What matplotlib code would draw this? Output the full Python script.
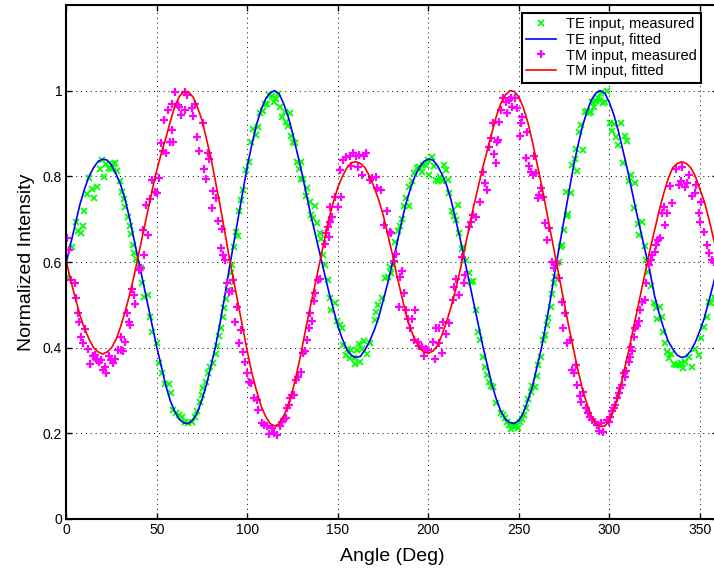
import matplotlib
matplotlib.use('Agg')
import matplotlib.pyplot as plt

plt.rcParams['font.family'] = ['Liberation Sans', 'DejaVu Sans']

# fitted curves, sampled every 2.5 degrees
fit_angle = [i * 2.5 for i in range(145)]
te_fit = [0.60, 0.645, 0.69, 0.735, 0.77, 0.80, 0.82, 0.835,
          0.84, 0.838, 0.825, 0.805, 0.78, 0.745, 0.70, 0.65,
          0.60, 0.55, 0.50, 0.45, 0.40, 0.355, 0.31, 0.275,
          0.25, 0.232, 0.224, 0.223, 0.232, 0.25, 0.28, 0.315,
          0.36, 0.405, 0.46, 0.52, 0.585, 0.645, 0.705, 0.765,
          0.825, 0.875, 0.92, 0.955, 0.98, 0.995, 1.00, 0.993,
          0.97, 0.94, 0.90, 0.855, 0.81, 0.76, 0.71, 0.665,
          0.62, 0.575, 0.53, 0.49, 0.45, 0.42, 0.395, 0.382,
          0.377, 0.38, 0.395, 0.415, 0.44, 0.47, 0.51, 0.55,
          0.595, 0.64, 0.69, 0.735, 0.77, 0.80, 0.82, 0.835,
          0.84, 0.838, 0.825, 0.805, 0.78, 0.745, 0.70, 0.655,
          0.605, 0.555, 0.505, 0.455, 0.405, 0.36, 0.315, 0.28,
          0.252, 0.233, 0.225, 0.223, 0.23, 0.248, 0.277, 0.31,
          0.355, 0.40, 0.455, 0.515, 0.58, 0.64, 0.70, 0.76,
          0.82, 0.87, 0.915, 0.95, 0.978, 0.994, 1.00, 0.994,
          0.972, 0.943, 0.905, 0.86, 0.815, 0.765, 0.715, 0.668,
          0.62, 0.575, 0.52, 0.48, 0.445, 0.415, 0.397, 0.382,
          0.377, 0.38, 0.393, 0.413, 0.44, 0.47, 0.51, 0.55,
          0.595]
tm_fit = [0.60, 0.555, 0.515, 0.475, 0.445, 0.42, 0.40, 0.39,
          0.385, 0.39, 0.40, 0.42, 0.45, 0.485, 0.525, 0.57,
          0.62, 0.67, 0.72, 0.77, 0.815, 0.855, 0.89, 0.93,
          0.965, 0.987, 0.998, 0.997, 0.985, 0.96, 0.93, 0.885,
          0.84, 0.785, 0.73, 0.67, 0.61, 0.555, 0.50, 0.445,
          0.39, 0.34, 0.30, 0.265, 0.24, 0.223, 0.217, 0.222,
          0.24, 0.265, 0.30, 0.345, 0.395, 0.45, 0.50, 0.55,
          0.60, 0.65, 0.70, 0.74, 0.775, 0.80, 0.82, 0.832,
          0.834, 0.83, 0.82, 0.80, 0.775, 0.745, 0.71, 0.665,
          0.62, 0.57, 0.525, 0.48, 0.445, 0.42, 0.40, 0.39,
          0.387, 0.392, 0.405, 0.43, 0.46, 0.495, 0.535, 0.58,
          0.63, 0.68, 0.73, 0.775, 0.82, 0.86, 0.90, 0.94,
          0.97, 0.99, 1.0, 0.998, 0.985, 0.96, 0.925, 0.88,
          0.83, 0.78, 0.725, 0.67, 0.615, 0.56, 0.505, 0.45,
          0.40, 0.35, 0.305, 0.27, 0.24, 0.222, 0.216, 0.217,
          0.23, 0.255, 0.29, 0.335, 0.38, 0.43, 0.48, 0.53,
          0.58, 0.63, 0.675, 0.72, 0.76, 0.795, 0.82, 0.83,
          0.834, 0.83, 0.82, 0.80, 0.77, 0.74, 0.70, 0.655,
          0.61]

# measured points (angle, normalized intensity)
te_angle = [0.3, 3.1, 5.3, 6.4, 8.1, 9.0, 9.9, 11.4, 12.7, 14.1, 15.4, 16.9, 18.4, 19.7, 21.0,
            22.1, 23.4, 24.6, 25.7, 27.0, 28.1, 29.8, 30.7, 31.8, 32.6, 33.8, 35.0, 35.7, 36.6,
            37.2, 38.5, 39.9, 41.0, 41.8, 43.1, 44.9, 46.0, 47.3, 50.1, 51.0, 52.8, 54.3, 56.5,
            58.0, 59.1, 60.6, 62.2, 63.7, 65.5, 67.4, 69.2, 71.1, 72.3, 73.8, 74.7, 75.7, 77.1,
            78.0, 79.3, 81.2, 82.7, 83.4, 84.3, 85.2, 86.3, 87.3, 88.2, 89.5, 90.0, 91.0, 91.7,
            92.6, 93.5, 94.6, 95.5, 96.3, 97.8, 99.2, 100.7, 102.0, 103.3, 104.6, 105.9, 107.0,
            108.4, 109.7, 111.0, 112.1, 113.4, 114.7, 115.8, 117.1, 118.0, 119.0, 120.6, 121.1,
            122.4, 123.3, 124.3, 125.2, 126.1, 127.4, 128.3, 129.8, 129.4, 130.7, 132.9, 132.2,
            134.4, 137.2, 135.3, 136.2, 138.6, 139.9, 140.8, 141.9, 142.7, 144.5, 145.4, 146.4,
            148.2, 149.7, 151.0, 152.3, 152.8, 154.3, 155.6, 156.5, 157.4, 158.7, 159.6, 160.5,
            161.5, 162.4, 163.5, 164.4, 166.3, 167.5, 170.3, 171.2, 172.2, 174.4, 176.2, 177.7,
            178.6, 179.4, 180.3, 181.8, 183.0, 184.3, 185.3, 186.7, 187.7, 189.1, 189.5, 191.0,
            192.3, 193.5, 195.0, 196.5, 197.2, 198.7, 199.6, 200.5, 201.8, 203.3, 204.2, 205.1,
            206.4, 207.5, 208.8, 209.7, 210.7, 211.6, 213.1, 214.4, 215.3, 216.2, 217.1, 218.4,
            219.3, 220.8, 222.3, 223.6, 224.9, 226.3, 227.6, 228.7, 230.0, 231.5, 232.4, 233.7,
            234.6, 235.9, 237.4, 239.9, 241.2, 242.1, 243.6, 244.5, 245.4, 246.3, 247.3, 248.5,
            249.5, 250.6, 251.9, 252.8, 254.1, 255.2, 256.5, 257.4, 258.7, 259.8, 260.5, 262.0,
            263.3, 264.2, 265.3, 266.0, 267.5, 268.4, 269.4, 269.7, 271.2, 272.1, 273.0, 274.0,
            274.9, 276.3, 277.3, 275.8, 278.6, 279.1, 280.8, 281.7, 282.2, 283.2, 284.5, 285.6,
            286.3, 287.4, 288.7, 289.6, 290.5, 291.4, 292.7, 293.7, 294.8, 295.5, 296.6, 297.7,
            298.7, 300.5, 301.4, 302.3, 303.6, 304.6, 306.6, 308.4, 309.7, 307.5, 310.6, 312.1,
            313.4, 314.3, 315.6, 316.5, 318.0, 319.5, 320.2, 321.3, 323.2, 324.4, 325.7, 326.3,
            328.1, 329.0, 329.6, 330.9, 331.8, 332.7, 334.2, 335.5, 336.8, 338.3, 339.5, 340.7,
            341.6, 344.1, 345.6, 347.5, 349.7, 350.8, 352.1, 353.9, 355.2, 356.3, 357.6]
te_meas = [0.566, 0.636, 0.694, 0.673, 0.667, 0.685, 0.719, 0.759, 0.797, 0.770, 0.750, 0.774,
           0.816, 0.838, 0.798, 0.828, 0.819, 0.816, 0.829, 0.830, 0.813, 0.788, 0.763, 0.747,
           0.728, 0.706, 0.685, 0.665, 0.640, 0.620, 0.607, 0.589, 0.585, 0.550, 0.519, 0.523,
           0.471, 0.436, 0.410, 0.365, 0.340, 0.315, 0.315, 0.293, 0.254, 0.247, 0.243, 0.239,
           0.227, 0.223, 0.227, 0.239, 0.251, 0.272, 0.290, 0.305, 0.321, 0.342, 0.354, 0.365,
           0.385, 0.405, 0.427, 0.445, 0.471, 0.492, 0.514, 0.535, 0.554, 0.574, 0.593, 0.636,
           0.669, 0.661, 0.720, 0.745, 0.768, 0.815, 0.834, 0.879, 0.910, 0.897, 0.916, 0.947,
           0.953, 0.969, 0.969, 0.990, 0.988, 0.974, 0.980, 0.992, 0.961, 0.939, 0.951, 0.928,
           0.918, 0.947, 0.894, 0.881, 0.877, 0.834, 0.816, 0.834, 0.793, 0.793, 0.772, 0.753,
           0.739, 0.731, 0.710, 0.702, 0.692, 0.667, 0.653, 0.616, 0.593, 0.558, 0.515, 0.488,
           0.504, 0.462, 0.453, 0.445, 0.406, 0.384, 0.398, 0.377, 0.395, 0.375, 0.363, 0.395,
           0.408, 0.367, 0.398, 0.416, 0.385, 0.410, 0.465, 0.484, 0.500, 0.515, 0.562, 0.566,
           0.589, 0.574, 0.593, 0.647, 0.673, 0.684, 0.700, 0.731, 0.749, 0.731, 0.774, 0.788,
           0.807, 0.819, 0.821, 0.809, 0.826, 0.826, 0.838, 0.802, 0.844, 0.824, 0.791, 0.790,
           0.799, 0.788, 0.826, 0.815, 0.791, 0.760, 0.718, 0.707, 0.698, 0.733, 0.667, 0.630,
           0.636, 0.605, 0.575, 0.554, 0.556, 0.488, 0.437, 0.418, 0.379, 0.354, 0.336, 0.321,
           0.311, 0.309, 0.270, 0.248, 0.243, 0.235, 0.227, 0.219, 0.209, 0.219, 0.216, 0.216,
           0.212, 0.227, 0.233, 0.243, 0.258, 0.279, 0.297, 0.311, 0.309, 0.334, 0.360, 0.379,
           0.418, 0.430, 0.453, 0.470, 0.496, 0.525, 0.550, 0.566, 0.597, 0.601, 0.636, 0.640,
           0.675, 0.707, 0.712, 0.764, 0.762, 0.826, 0.840, 0.863, 0.813, 0.904, 0.920, 0.861,
           0.951, 0.953, 0.949, 0.951, 0.974, 0.963, 0.977, 0.982, 0.978, 0.994, 0.972, 0.974,
           1.000, 0.925, 0.907, 0.922, 0.891, 0.873, 0.925, 0.893, 0.883, 0.830, 0.790, 0.803,
           0.725, 0.784, 0.689, 0.663, 0.694, 0.637, 0.605, 0.577, 0.544, 0.504, 0.492, 0.468,
           0.496, 0.472, 0.436, 0.410, 0.391, 0.375, 0.385, 0.363, 0.360, 0.360, 0.365, 0.352,
           0.367, 0.379, 0.356, 0.398, 0.383, 0.422, 0.449, 0.472, 0.507, 0.505, 0.519]

tm_angle = [0.15, 1.25, 2.7, 4.6, 5.3, 6.2, 7.1, 8.3, 9.4, 10.5, 11.8, 13.2, 14.5, 16.0, 16.7,
            17.8, 19.3, 20.0, 21.1, 22.1, 23.4, 24.5, 25.6, 27.0, 28.3, 30.0, 31.3, 30.4, 32.2,
            33.5, 34.4, 35.3, 36.2, 37.2, 38.1, 39.9, 41.2, 42.3, 43.1, 45.1, 44.0, 46.2, 47.3,
            49.1, 50.2, 51.0, 52.3, 53.2, 55.0, 53.7, 57.1, 56.1, 58.3, 58.3, 59.1, 60.0, 61.8,
            63.3, 62.4, 65.5, 65.5, 66.4, 69.2, 70.1, 71.1, 72.3, 73.3, 75.3, 76.2, 77.1, 78.0,
            79.0, 80.3, 81.2, 82.7, 84.0, 85.2, 86.2, 86.7, 87.6, 88.9, 90.0, 91.3, 92.2, 94.1,
            93.2, 95.4, 96.3, 97.4, 98.7, 100.0, 101.1, 101.8, 103.7, 105.1, 106.0, 107.9, 109.2,
            110.6, 112.1, 113.4, 114.7, 116.2, 118.0, 119.1, 120.2, 121.1, 121.9, 122.8, 123.7,
            124.6, 125.7, 127.0, 127.9, 129.4, 130.7, 131.6, 133.1, 134.0, 134.8, 135.7, 136.8,
            137.5, 139.0, 140.3, 142.7, 143.2, 144.9, 144.5, 145.4, 146.7, 145.8, 148.6, 151.9,
            150.1, 151.0, 152.8, 154.7, 156.5, 157.4, 158.3, 160.2, 161.1, 161.6, 163.3, 164.4,
            165.7, 167.5, 169.0, 170.9, 171.8, 174.0, 175.5, 177.3, 178.6, 179.4, 182.1, 181.2,
            185.4, 184.3, 186.7, 183.6, 187.6, 192.6, 188.6, 190.8, 189.9, 192.3, 194.1, 195.0,
            196.3, 197.4, 198.7, 200.0, 202.4, 203.7, 204.2, 206.1, 205.7, 207.5, 208.3, 209.7,
            211.6, 213.4, 214.4, 215.3, 217.1, 218.6, 219.5, 220.4, 222.3, 223.6, 224.9, 226.3,
            228.5, 230.0, 231.5, 232.4, 233.7, 234.6, 235.9, 236.5, 237.4, 238.0, 239.0, 238.4,
            240.3, 241.4, 242.6, 243.6, 244.5, 245.4, 246.3, 247.6, 248.7, 250.9, 251.9, 250.6,
            253.7, 254.6, 255.5, 256.8, 257.9, 258.3, 259.2, 261.1, 262.0, 260.5, 263.5, 264.2,
            265.7, 266.6, 268.4, 269.4, 270.8, 272.1, 274.0, 275.2, 274.5, 276.7, 278.2, 279.5,
            280.4, 281.3, 282.2, 283.5, 284.5, 285.6, 286.8, 288.1, 289.2, 290.5, 291.8, 293.3,
            294.2, 295.5, 296.6, 298.7, 299.6, 300.5, 301.4, 302.3, 303.3, 304.2, 305.1, 306.0,
            306.9, 308.4, 307.9, 309.2, 310.6, 311.6, 312.5, 312.1, 313.4, 314.3, 315.2, 316.5,
            317.1, 318.0, 319.5, 320.4, 322.1, 323.2, 323.5, 325.4, 325.9, 326.8, 328.1, 330.5,
            329.1, 331.8, 330.0, 334.6, 333.7, 336.8, 338.6, 339.7, 340.1, 341.6, 342.9, 344.2,
            345.6, 347.1, 347.8, 349.3, 350.8, 350.2, 352.1, 353.9, 355.2, 356.7, 357.6]
tm_meas = [0.655, 0.628, 0.558, 0.552, 0.515, 0.480, 0.461, 0.426, 0.410, 0.443, 0.398, 0.363,
           0.381, 0.383, 0.371, 0.367, 0.371, 0.348, 0.354, 0.340, 0.381, 0.371, 0.365, 0.373,
           0.395, 0.395, 0.393, 0.426, 0.414, 0.480, 0.461, 0.453, 0.537, 0.523, 0.502, 0.581,
           0.587, 0.675, 0.616, 0.663, 0.733, 0.746, 0.791, 0.764, 0.762, 0.797, 0.877, 0.858,
           0.854, 0.932, 0.879, 0.955, 0.908, 0.970, 0.881, 0.998, 0.967, 0.943, 0.961, 0.998,
           0.956, 0.990, 0.959, 0.942, 0.970, 0.891, 0.860, 0.924, 0.816, 0.794, 0.855, 0.840,
           0.725, 0.766, 0.749, 0.696, 0.632, 0.676, 0.616, 0.605, 0.552, 0.531, 0.533, 0.558,
           0.496, 0.459, 0.412, 0.441, 0.391, 0.367, 0.342, 0.321, 0.317, 0.282, 0.278, 0.254,
           0.225, 0.219, 0.216, 0.198, 0.212, 0.200, 0.196, 0.216, 0.227, 0.233, 0.235, 0.258,
           0.266, 0.282, 0.290, 0.290, 0.325, 0.332, 0.344, 0.387, 0.393, 0.418, 0.445, 0.480,
           0.463, 0.510, 0.528, 0.558, 0.560, 0.643, 0.667, 0.659, 0.682, 0.694, 0.706, 0.729,
           0.751, 0.751, 0.729, 0.815, 0.838, 0.844, 0.847, 0.824, 0.854, 0.847, 0.822, 0.850,
           0.803, 0.847, 0.855, 0.791, 0.795, 0.799, 0.772, 0.768, 0.686, 0.718, 0.671, 0.668,
           0.619, 0.603, 0.580, 0.566, 0.527, 0.496, 0.488, 0.489, 0.466, 0.468, 0.445, 0.419,
           0.414, 0.404, 0.402, 0.381, 0.398, 0.395, 0.414, 0.373, 0.445, 0.445, 0.411, 0.387,
           0.461, 0.433, 0.458, 0.511, 0.541, 0.560, 0.523, 0.612, 0.551, 0.570, 0.682, 0.694,
           0.710, 0.706, 0.739, 0.811, 0.784, 0.768, 0.869, 0.889, 0.924, 0.852, 0.830, 0.881,
           0.928, 0.885, 0.955, 0.982, 0.974, 0.947, 0.978, 0.982, 0.963, 0.984, 0.959, 0.925,
           0.939, 0.894, 0.842, 0.904, 0.824, 0.811, 0.803, 0.847, 0.807, 0.756, 0.772, 0.749,
           0.751, 0.690, 0.651, 0.679, 0.601, 0.585, 0.598, 0.562, 0.507, 0.480, 0.445, 0.410,
           0.418, 0.349, 0.340, 0.360, 0.313, 0.286, 0.272, 0.297, 0.258, 0.247, 0.239, 0.231,
           0.227, 0.219, 0.206, 0.223, 0.204, 0.231, 0.227, 0.237, 0.251, 0.258, 0.266, 0.282,
           0.295, 0.305, 0.313, 0.332, 0.340, 0.346, 0.367, 0.379, 0.393, 0.402, 0.426, 0.445,
           0.451, 0.463, 0.488, 0.507, 0.511, 0.550, 0.593, 0.605, 0.616, 0.624, 0.640, 0.651,
           0.655, 0.686, 0.714, 0.714, 0.729, 0.737, 0.777, 0.816, 0.780, 0.790, 0.821, 0.775,
           0.785, 0.803, 0.754, 0.760, 0.780, 0.714, 0.739, 0.694, 0.671, 0.640, 0.620, 0.605,
           0.599]

x_ticks = [0, 50, 100, 150, 200, 250, 300, 350]
y_ticks = [0, 0.2, 0.4, 0.6, 0.8, 1]
y_ticklabels = ['0', '0.2', '0.4', '0.6', '0.8', '1']

fig = plt.figure(figsize=(7.14, 5.8), dpi=100)
ax = fig.add_axes([66.4 / 714, 61 / 580, 651.6 / 714, 514 / 580])

ax.plot(te_angle, te_meas, linestyle='none', marker='x', color=(0, 1, 0),
        markersize=4.5, markeredgewidth=1.3, label='TE input, measured')
ax.plot(fit_angle, te_fit, color=(0, 0, 1), linewidth=1.2, label='TE input, fitted')
ax.plot(tm_angle, tm_meas, linestyle='none', marker='+', color=(1, 0, 1),
        markersize=6, markeredgewidth=1.6, label='TM input, measured')
ax.plot(fit_angle, tm_fit, color=(1, 0, 0), linewidth=1.2, label='TM input, fitted')

ax.set_xlim(0, 360)
ax.set_ylim(0, 1.2)
ax.set_xticks(x_ticks)
ax.set_yticks(y_ticks)
ax.set_yticklabels(y_ticklabels)
ax.tick_params(direction='in', length=4, width=1, top=True, right=True,
               labelsize=10, pad=3)
for s in ax.spines.values():
    s.set_linewidth(1.5)
ax.grid(True, color='black', linestyle=(0, (1, 4)), linewidth=0.7)

ax.set_xlabel('Angle (Deg)', fontsize=14, labelpad=8)
ax.set_ylabel('Normalized Intensity', fontsize=14, labelpad=6)

leg = ax.legend(loc='upper right', bbox_to_anchor=(0.974, 0.985), fontsize=10.5,
                numpoints=1, fancybox=False, framealpha=1, edgecolor='black',
                borderaxespad=0, handlelength=2.0, labelspacing=0.12,
                borderpad=0.3, handletextpad=0.7)
leg.get_frame().set_linewidth(1.5)

fig.savefig('out.png', dpi=100)
